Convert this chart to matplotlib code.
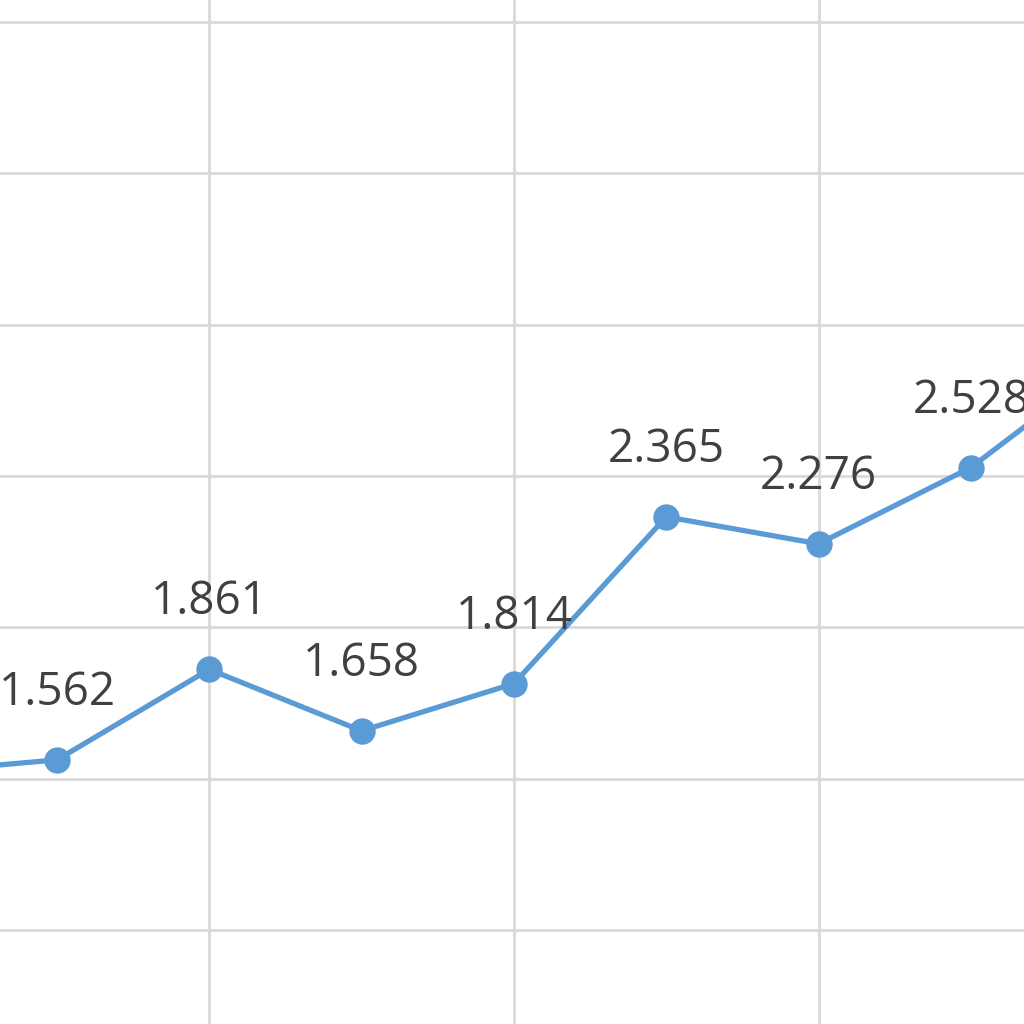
import numpy as np
import matplotlib
matplotlib.use("Agg")
from matplotlib import pyplot as plt

# Values (first and last points lie outside the crop)
xIdx = [0, 1, 2, 3, 4, 5, 6, 7, 8]
values = [1.518, 1.562, 1.861, 1.658, 1.814, 2.365, 2.276, 2.528, 2.91]
labels = ["1.518", "1.562", "1.861", "1.658", "1.814", "2.365", "2.276", "2.528", "2.910"]
yTicks = [1.0, 1.5, 2.0, 2.5, 3.0, 3.5, 4.0]
xTicks = [0, 2, 4, 6, 8]

LINE_COLOUR = "#5B9BD5"
GRID_COLOUR = "#D9D9D9"
TEXT_COLOUR = "#404040"

fig = plt.figure(figsize=(10.24, 10.24), dpi=100)
ax = fig.add_axes([0, 0, 1, 1])

# Grid
ax.set_xticks(xTicks)
ax.set_yticks(yTicks)
ax.grid(True, color=GRID_COLOUR, linewidth=2.0)
ax.set_axisbelow(True)
ax.tick_params(length=0, labelbottom=False, labelleft=False)
for s in ax.spines.values():
    s.set_visible(False)

# Series
ax.plot(xIdx, values, color=LINE_COLOUR, linewidth=3.8, marker="o",
        markersize=19, markeredgewidth=0, zorder=3, clip_on=True)

# Data labels
for x, v, t in zip(xIdx, values, labels):
    ax.annotate(t, (x, v), xytext=(0, 55), textcoords="offset pixels",
                ha="center", va="baseline", fontsize=33, color=TEXT_COLOUR,
                family="Open Sans", annotation_clip=False, zorder=4)

ax.set_xlim(0.626, 7.349)
ax.set_ylim(0.6894, 4.0727)

fig.savefig("out.png", dpi=100)
